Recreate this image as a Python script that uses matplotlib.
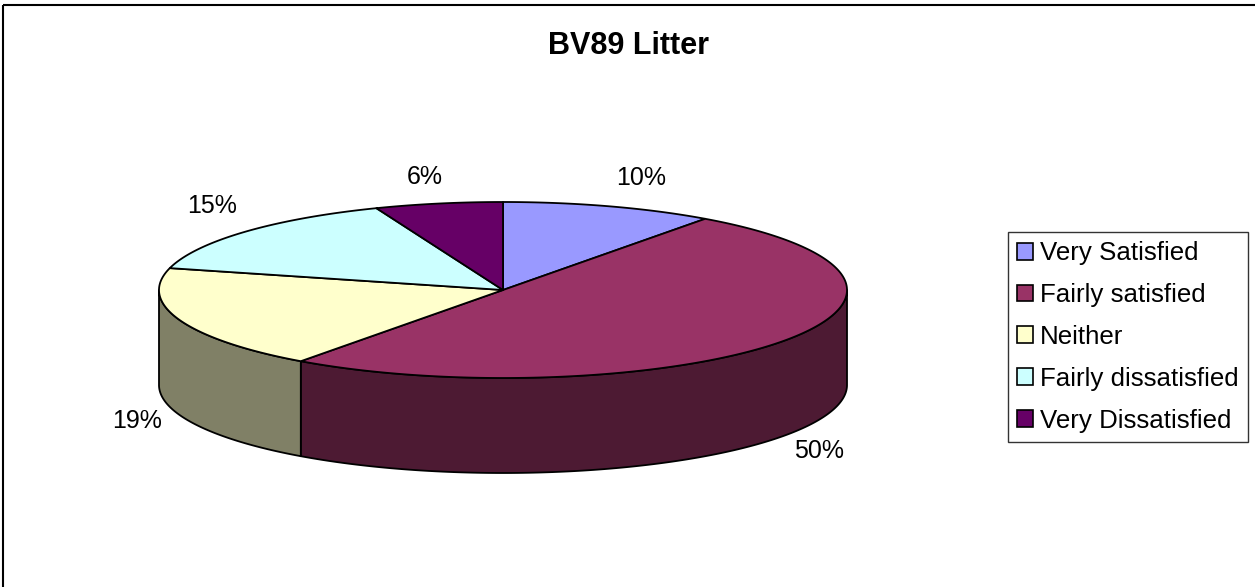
import numpy as np
import matplotlib
matplotlib.use("Agg")
import matplotlib.pyplot as plt
from matplotlib.patches import Polygon, Rectangle, Patch
from matplotlib.colors import to_rgb

plt.rcParams['font.family'] = ['Liberation Sans', 'DejaVu Sans']

title = "BV89 Litter"
categories = ["Very Satisfied", "Fairly satisfied", "Neither", "Fairly dissatisfied", "Very Dissatisfied"]
values = [10, 50, 19, 15, 6]
colors = ["#9999FF", "#993366", "#FFFFCC", "#CCFFFF", "#660066"]
label_pos = [(641, 178), (819, 451), (137, 421), (212, 206), (425, 177)]

W, H = 1255, 587
fig = plt.figure(figsize=(W / 100, H / 100), dpi=100)
ax = fig.add_axes([0, 0, 1, 1])
ax.set_xlim(0, W)
ax.set_ylim(H, 0)
ax.axis('off')

# outer chart border (left/top visible)
ax.add_patch(Rectangle((3, 5), W + 10, H + 10, fill=False, edgecolor='black', lw=1.5, zorder=1))

cx, cy, rx, ry, depth = 503, 290, 344, 88, 95
lw = 1.3

def ex(t):
    return cx + rx * np.cos(np.radians(t))

def ey(t):
    return cy - ry * np.sin(np.radians(t))

total = float(sum(values))
cum = np.concatenate([[0], np.cumsum(values)])
starts = 90 - 360 * cum[:-1] / total
ends = 90 - 360 * cum[1:] / total

# side faces (front half)
for a0, a1, c in zip(starts, ends, colors):
    lo, hi = a1, a0
    for k in (-360, 0, 360):
        s_lo, s_hi = max(lo, -180 + k), min(hi, 0 + k)
        if s_hi > s_lo:
            t = np.linspace(s_lo, s_hi, 200)
            xs = ex(t)
            top = ey(t)
            bot = top + depth
            pts = np.column_stack([np.concatenate([xs, xs[::-1]]),
                                   np.concatenate([top, bot[::-1]])])
            side = tuple(0.5 * v for v in to_rgb(c))
            ax.add_patch(Polygon(pts, closed=True, facecolor=side,
                                 edgecolor='black', lw=lw, joinstyle='round', zorder=2))

# top faces
for a0, a1, c in zip(starts, ends, colors):
    t = np.linspace(a0, a1, 300)
    pts = np.column_stack([np.concatenate([[cx], ex(t)]),
                           np.concatenate([[cy], ey(t)])])
    ax.add_patch(Polygon(pts, closed=True, facecolor=c, edgecolor='black',
                         lw=lw, joinstyle='round', zorder=3))

# percentage labels
for v, (lx, ly) in zip(values, label_pos):
    ax.text(lx, ly, f"{round(100 * v / total):.0f}%", fontsize=18,
            ha='center', va='center', zorder=5)

ax.text(629, 46, title, fontsize=22, fontweight='bold', ha='center', va='center')

handles = [Patch(facecolor=c, edgecolor='black', lw=1.2) for c in colors]
leg = ax.legend(handles, categories, loc='upper left',
                bbox_to_anchor=(1008, 232), bbox_transform=ax.transData,
                fontsize=18.6, frameon=True, fancybox=False, shadow=False,
                handlelength=0.62, handleheight=0.62, handletextpad=0.25,
                labelspacing=0.69, borderpad=0.36, borderaxespad=0)
leg.get_frame().set_edgecolor('black')
leg.get_frame().set_linewidth(1.0)

fig.savefig("out.png", dpi=100)
